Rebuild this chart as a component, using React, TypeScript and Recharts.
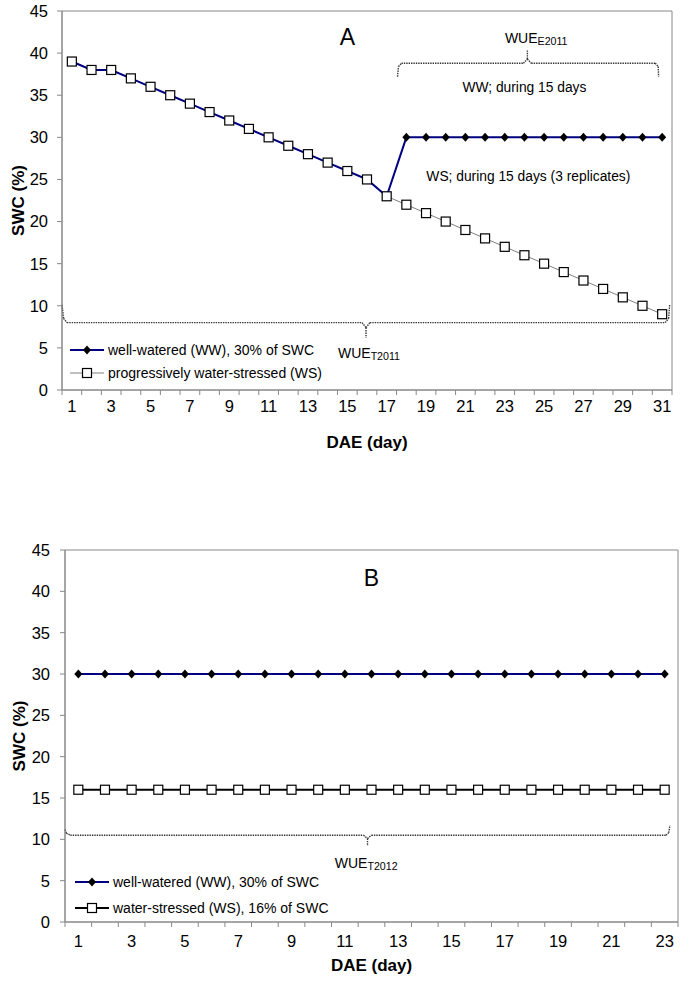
import React from 'react';
import { LineChart, Line, XAxis, YAxis, ReferenceLine, ReferenceDot, ReferenceArea, Legend } from 'recharts';

const FONT = 'Arial, "Liberation Sans", Helvetica, sans-serif';

// ---- data: panel A (2011) ----
const daysA = [1, 2, 3, 4, 5, 6, 7, 8, 9, 10, 11, 12, 13, 14, 15, 16, 17, 18, 19, 20, 21, 22, 23, 24, 25, 26, 27, 28, 29, 30, 31];
const wsA = [39, 38, 38, 37, 36, 35, 34, 33, 32, 31, 30, 29, 28, 27, 26, 25, 23, 22, 21, 20, 19, 18, 17, 16, 15, 14, 13, 12, 11, 10, 9];
const wwA = [39, 38, 38, 37, 36, 35, 34, 33, 32, 31, 30, 29, 28, 27, 26, 25, 23, 30, 30, 30, 30, 30, 30, 30, 30, 30, 30, 30, 30, 30, 30];

// ---- data: panel B (2012) ----
const daysB = [1, 2, 3, 4, 5, 6, 7, 8, 9, 10, 11, 12, 13, 14, 15, 16, 17, 18, 19, 20, 21, 22, 23];
const wwB = [30, 30, 30, 30, 30, 30, 30, 30, 30, 30, 30, 30, 30, 30, 30, 30, 30, 30, 30, 30, 30, 30, 30];
const wsB = [16, 16, 16, 16, 16, 16, 16, 16, 16, 16, 16, 16, 16, 16, 16, 16, 16, 16, 16, 16, 16, 16, 16];

const yTicks = [0, 5, 10, 15, 20, 25, 30, 35, 40, 45];

const legendA = ['well-watered (WW), 30% of SWC', 'progressively water-stressed (WS)'];
const legendB = ['well-watered (WW), 30% of SWC', 'water-stressed (WS), 16% of SWC'];

// dotted braces (data coordinates)
const braceT2011 = [
  [[0.5, 10.1], [0.58, 8.5], [0.75, 8.0], [15.75, 8.0], [15.95, 7.4], [15.95, 6.2]],
  [[15.95, 7.4], [16.15, 8.0], [31.15, 8.0], [31.33, 8.5], [31.38, 10.1]],
];
const braceE2011 = [
  [[17.55, 37.2], [17.6, 38.4], [17.75, 38.8], [23.95, 38.8], [24.15, 39.3], [24.15, 40.4]],
  [[24.15, 39.3], [24.35, 38.8], [30.65, 38.8], [30.8, 38.4], [30.82, 37.2]],
];
const braceT2012 = [
  [[0.5, 11.2], [0.55, 10.75], [0.7, 10.5], [11.7, 10.5], [11.85, 10.1], [11.85, 9.2]],
  [[11.85, 10.1], [12.0, 10.5], [23.05, 10.5], [23.15, 10.8], [23.2, 11.7]],
];

const rowsA = daysA.map((d, i) => ({ day: d, ww: wwA[i], ws: wsA[i] }));
const rowsB = daysB.map((d, i) => ({ day: d, ww: wwB[i], ws: wsB[i] }));

const Square = (p: any) =>
  p.cx == null ? <g key={p.key} /> : (
    <rect key={p.key} x={p.cx - 4.5} y={p.cy - 4.5} width={9} height={9} fill="#fff" stroke="#000" strokeWidth={1.2} />
  );
const Diamond = (p: any) =>
  p.cx == null ? <g key={p.key} /> : (
    <path key={p.key} d={`M${p.cx},${p.cy - 4.5}L${p.cx + 4},${p.cy}L${p.cx},${p.cy + 4.5}L${p.cx - 4},${p.cy}Z`} fill="#000" />
  );

const makeTick = (n: number, plotW: number) => (props: any) => {
  const { x, y, payload } = props;
  const w = typeof props.width === 'number' && props.width > 100 ? props.width : plotW;
  const day = payload.value + 0.5;
  if (day > n || day % 2 === 0) return <g />;
  return (
    <text x={x + w / n / 2} y={y} dy="0.71em" textAnchor="middle" fontSize={16.5} fontFamily={FONT} fill="#000">
      {day}
    </text>
  );
};

const annot = (main: string, sub: string, size: number) => (props: any) => {
  const vb = props.viewBox || {};
  const cx = vb.x + (vb.width || 0) / 2;
  const cy = vb.y + (vb.height || 0) / 2;
  return (
    <text x={cx} y={cy} textAnchor="middle" dominantBaseline="central" fontSize={size} fontFamily={FONT} fill="#000">
      {main}
      {sub ? <tspan fontSize={size * 0.76} dy={3}>{sub}</tspan> : null}
    </text>
  );
};

const braceLines = (brace: number[][][], key: string) =>
  brace.flatMap((poly, pi) =>
    poly.slice(1).map((pt, i) => (
      <ReferenceLine
        key={`${key}-${pi}-${i}`}
        xAxisId="d"
        segment={[{ x: poly[i][0], y: poly[i][1] }, { x: pt[0], y: pt[1] }]}
        stroke="#333"
        strokeWidth={1.4}
        strokeDasharray="1.4 1"
        ifOverflow="visible"
      />
    ))
  );

const LegendBox = ({ labels, wsColor, rowH }: { labels: string[]; wsColor: string; rowH: number }) => (
  <div style={{ fontFamily: FONT, fontSize: 14, color: '#000' }}>
    <div style={{ display: 'flex', alignItems: 'center', height: rowH }}>
      <svg width={34} height={12}>
        <line x1={0} y1={6} x2={34} y2={6} stroke="#000080" strokeWidth={2} />
        <path d="M17,1.5L21,6L17,10.5L13,6Z" fill="#000" />
      </svg>
      <span style={{ marginLeft: 4 }}>{labels[0]}</span>
    </div>
    <div style={{ display: 'flex', alignItems: 'center', height: rowH }}>
      <svg width={34} height={12}>
        <line x1={0} y1={6} x2={34} y2={6} stroke={wsColor} strokeWidth={wsColor === '#000' ? 2 : 1} />
        <rect x={12.5} y={1.5} width={9} height={9} fill="#fff" stroke="#000" strokeWidth={1.2} />
      </svg>
      <span style={{ marginLeft: 4 }}>{labels[1]}</span>
    </div>
  </div>
);

const axisStroke = '#888';

export default function App() {
  const boundA = [0.5, ...daysA.map((d) => d + 0.5)];
  const boundB = [0.5, ...daysB.map((d) => d + 0.5)];
  return (
    <div style={{ position: 'absolute', left: 0, top: 0, width: 683, height: 984, background: '#fff', fontFamily: FONT }}>
      <div style={{ position: 'absolute', left: 0, top: 0 }}>
        <LineChart width={683} height={470} data={rowsA} margin={{ top: 11, right: 11, bottom: 0, left: 0 }}>
          <ReferenceArea xAxisId="d" x1={0.5} x2={31.5} y1={0} y2={45} fill="none" stroke={axisStroke} strokeWidth={1} ifOverflow="visible" />
          <XAxis
            xAxisId="d"
            dataKey="day"
            type="number"
            domain={[0.5, 31.5]}
            ticks={boundA}
            interval={0}
            height={80}
            tickSize={5}
            tickMargin={5}
            stroke={axisStroke}
            tick={makeTick(31, 610)}
            label={{ value: 'DAE (day)', position: 'insideBottom', offset: 22, fontSize: 17, fontWeight: 'bold', fill: '#000', fontFamily: FONT }}
          />
          <YAxis
            domain={[0, 45]}
            ticks={yTicks}
            width={62}
            tickSize={5}
            tickMargin={9}
            stroke={axisStroke}
            tick={{ fontSize: 16.5, fill: '#000', fontFamily: FONT }}
            label={{ value: 'SWC (%)', angle: -90, position: 'center', dx: -13, fontSize: 17, fontWeight: 'bold', fill: '#000', fontFamily: FONT }}
          />
          {braceLines(braceT2011, 't11')}
          {braceLines(braceE2011, 'e11')}
          <Line xAxisId="d" dataKey="ws" stroke="#808080" strokeWidth={1} dot={false} isAnimationActive={false} />
          <Line xAxisId="d" dataKey="ww" stroke="#000080" strokeWidth={2} dot={Diamond} isAnimationActive={false} />
          <Line xAxisId="d" dataKey="ws" stroke="none" dot={Square} isAnimationActive={false} legendType="none" />
          <ReferenceDot xAxisId="d" x={15} y={41.9} r={0} label={{ content: annot('A', '', 23) }} />
          <ReferenceDot xAxisId="d" x={24.6} y={41.8} r={0} label={{ content: annot('WUE', 'E2011', 14) }} />
          <ReferenceDot xAxisId="d" x={24.0} y={35.9} r={0} label={{ content: annot('WW; during 15 days', '', 13.8) }} />
          <ReferenceDot xAxisId="d" x={24.2} y={25.4} r={0} label={{ content: annot('WS; during 15 days (3 replicates)', '', 13.8) }} />
          <ReferenceDot xAxisId="d" x={16.1} y={4.4} r={0} label={{ content: annot('WUE', 'T2011', 14) }} />
          <Legend
            layout="vertical"
            align="center"
            verticalAlign="middle"
            wrapperStyle={{ left: 70, top: 338, width: 320 }}
            content={() => <LegendBox labels={legendA} wsColor="#808080" rowH={23} />}
          />
        </LineChart>
      </div>

      <div style={{ position: 'absolute', left: 0, top: 500 }}>
        <LineChart width={683} height={484} data={rowsB} margin={{ top: 50, right: 5, bottom: 0, left: 0 }}>
          <ReferenceArea xAxisId="d" x1={0.5} x2={23.5} y1={0} y2={45} fill="none" stroke={axisStroke} strokeWidth={1} ifOverflow="visible" />
          <XAxis
            xAxisId="d"
            dataKey="day"
            type="number"
            domain={[0.5, 23.5]}
            ticks={boundB}
            interval={0}
            height={62}
            tickSize={5}
            tickMargin={8}
            stroke={axisStroke}
            tick={makeTick(23, 613)}
            label={{ value: 'DAE (day)', position: 'insideBottom', offset: 13, fontSize: 17, fontWeight: 'bold', fill: '#000', fontFamily: FONT }}
          />
          <YAxis
            domain={[0, 45]}
            ticks={yTicks}
            width={65}
            tickSize={5}
            tickMargin={10}
            stroke={axisStroke}
            tick={{ fontSize: 16.5, fill: '#000', fontFamily: FONT }}
            label={{ value: 'SWC (%)', angle: -90, position: 'center', dx: -14, fontSize: 17, fontWeight: 'bold', fill: '#000', fontFamily: FONT }}
          />
          {braceLines(braceT2012, 't12')}
          <Line xAxisId="d" dataKey="ww" stroke="#000080" strokeWidth={2} dot={Diamond} isAnimationActive={false} />
          <Line xAxisId="d" dataKey="ws" stroke="#000" strokeWidth={2} dot={Square} isAnimationActive={false} />
          <ReferenceDot xAxisId="d" x={12} y={41.6} r={0} label={{ content: annot('B', '', 23) }} />
          <ReferenceDot xAxisId="d" x={11.8} y={7.1} r={0} label={{ content: annot('WUE', 'T2012', 14) }} />
          <Legend
            layout="vertical"
            align="center"
            verticalAlign="middle"
            wrapperStyle={{ left: 75, top: 369, width: 320 }}
            content={() => <LegendBox labels={legendB} wsColor="#000" rowH={26} />}
          />
        </LineChart>
      </div>
    </div>
  );
}
